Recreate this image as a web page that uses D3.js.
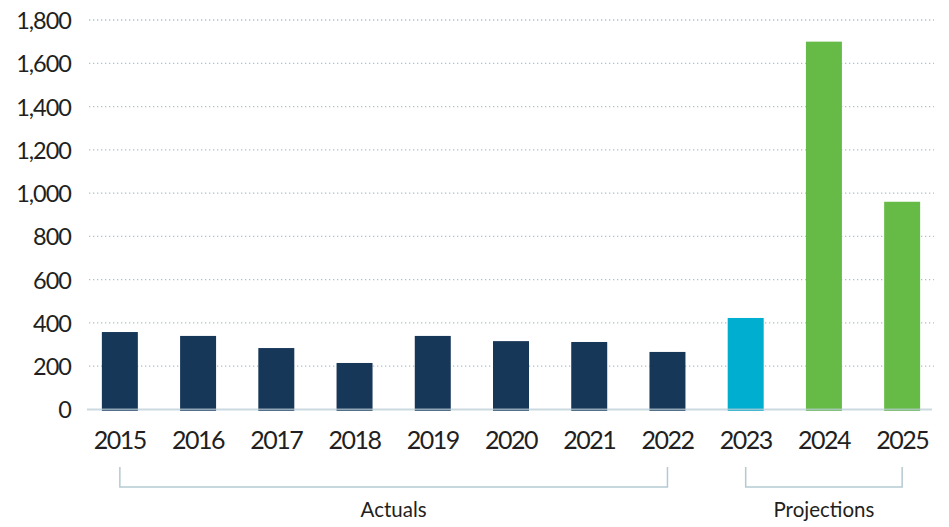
<!DOCTYPE html>
<html>
<head>
<meta charset="utf-8">
<script src="https://cdn.jsdelivr.net/npm/d3@7"></script>
<style>
  html, body { margin: 0; padding: 0; background: #fff; }
  svg text { font-family: Lato, "Open Sans", sans-serif; fill: #231f20; }
</style>
</head>
<body>
<svg id="chart" width="949" height="527"></svg>
<script>
// Annual values, actuals 2015–2022 and projections 2023–2025
const years = ["2015","2016","2017","2018","2019","2020","2021","2022","2023","2024","2025"];
const values = [358, 340, 284, 215, 340, 316, 312, 266, 423, 1700, 960];
const barColors = ["#173759","#173759","#173759","#173759","#173759","#173759","#173759","#173759","#00aed0","#66bb46","#66bb46"];
const yTicks = [0, 200, 400, 600, 800, 1000, 1200, 1400, 1600, 1800];
const groups = [
  { label: "Actuals", from: "2015", to: "2022" },
  { label: "Projections", from: "2023", to: "2025" }
];

const svg = d3.select("#chart");

const x = d3.scaleBand()
  .domain(years)
  .range([87, 935])
  .paddingInner(0.54)
  .paddingOuter(0.19);

const y = d3.scaleLinear()
  .domain([0, 1800])
  .range([409.5, 20]);

// dotted horizontal gridlines
svg.append("g")
  .selectAll("line")
  .data(yTicks.filter(d => d > 0))
  .join("line")
  .attr("x1", 89).attr("x2", 934)
  .attr("y1", d => y(d)).attr("y2", d => y(d))
  .attr("stroke", "#a9c2cc")
  .attr("stroke-width", 1.3)
  .attr("stroke-dasharray", "1.3,2.7");

// y axis labels
const yAxis = d3.axisLeft(y)
  .tickValues(yTicks)
  .tickFormat(d3.format(","))
  .tickSize(0)
  .tickPadding(0);
const gy = svg.append("g").attr("transform", "translate(71,0)").call(yAxis);
gy.select(".domain").remove();
gy.selectAll("text")
  .attr("font-size", 23.5)
  .attr("letter-spacing", -1)
  .attr("dy", "0.36em");

// bars
svg.append("g")
  .selectAll("rect")
  .data(years)
  .join("rect")
  .attr("x", d => x(d))
  .attr("width", x.bandwidth())
  .attr("y", (d, i) => y(values[i]))
  .attr("height", (d, i) => y(0) - y(values[i]) + 1.5)
  .attr("fill", (d, i) => barColors[i]);

// baseline
svg.append("line")
  .attr("x1", 87).attr("x2", 932)
  .attr("y1", y(0)).attr("y2", y(0))
  .attr("stroke", "#b9ced5")
  .attr("stroke-opacity", 0.75)
  .attr("stroke-width", 2);

// x axis labels
const xAxis = d3.axisBottom(x).tickSize(0).tickPadding(0);
const gx = svg.append("g").attr("transform", "translate(0,448.5)").call(xAxis);
gx.select(".domain").remove();
gx.selectAll("text")
  .attr("font-size", 25)
  .attr("letter-spacing", -1.5)
  .attr("y", 0)
  .attr("dy", 0);

// group brackets with labels
const cx = d => x(d) + x.bandwidth() / 2;
const bracket = svg.append("g");
groups.forEach(g => {
  const x0 = cx(g.from), x1 = cx(g.to);
  bracket.append("path")
    .attr("d", `M${x0},467V487H${x1}V467`)
    .attr("fill", "none")
    .attr("stroke", "#b4cad2")
    .attr("stroke-width", 1.5);
  bracket.append("text")
    .attr("x", (x0 + x1) / 2)
    .attr("y", 517)
    .attr("text-anchor", "middle")
    .attr("font-size", 20.5)
    .text(g.label);
});
</script>
</body>
</html>
